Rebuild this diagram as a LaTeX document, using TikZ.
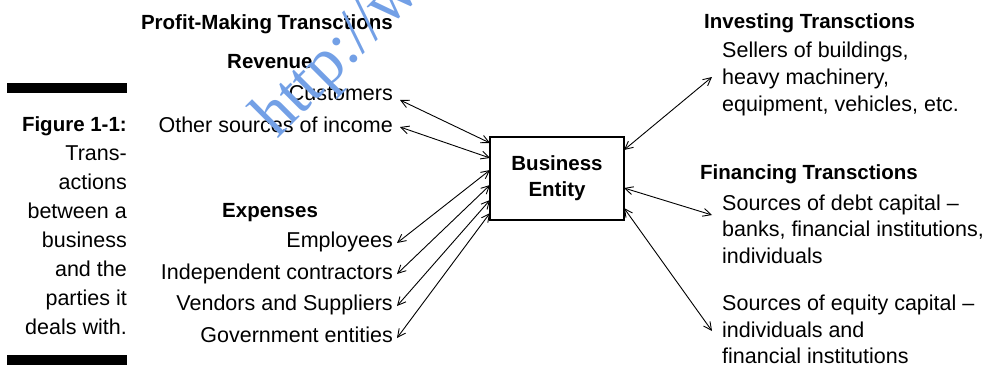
\documentclass[tikz,border=0pt]{standalone}
\usepackage{fontspec}
\setmainfont{Liberation Sans}
\newfontfamily\wmfont{Liberation Serif}
\usetikzlibrary{arrows.meta}
\definecolor{wmblue}{RGB}{115,160,230}

\begin{document}
\begin{tikzpicture}[x=1pt,y=-1pt,
  txt/.style={inner sep=0pt,font=\fontsize{21.5}{27}\selectfont},
  head/.style={inner sep=0pt,font=\fontsize{20.5}{27}\selectfont\bfseries},
  link/.style={line width=0.9pt,
    {Straight Barb[length=8pt,width=8pt]}-{Straight Barb[length=8pt,width=8pt]}},
  bar/.style={fill=black}]
\useasboundingbox (0,0) rectangle (991,367);

% caption column with its two rules
\fill[bar] (7,83) rectangle (127,93);
\fill[bar] (7,355) rectangle (127,365);
\node[head,anchor=base east] (figlabel) at (127,131) {Figure 1-1:};
\foreach \t/\y [count=\i] in {Trans-/160,actions/189,between a/218,business/247,
    and the/276,parties it/305,deals with./334}
  \node[txt,anchor=base east] (cap\i) at (127,\y) {\t};

% profit-making side
\node[head,anchor=base east] (profit) at (393,29) {Profit-Making Transctions};
\node[head,anchor=base west] (revenue) at (227,68) {Revenue};
\node[txt,anchor=base east] (customers) at (393,100) {Customers};
\node[txt,anchor=base east] (income) at (393,132) {Other sources of income};
\node[head,anchor=base west] (expenses) at (222,217) {Expenses};
\node[txt,anchor=base east] (employees) at (393,247) {Employees};
\node[txt,anchor=base east] (contractors) at (393,279) {Independent contractors};
\node[txt,anchor=base east] (vendors) at (393,310) {Vendors and Suppliers};
\node[txt,anchor=base east] (government) at (393,342) {Government entities};

% the entity
\node[draw,line width=1.3pt,minimum width=134pt,minimum height=83pt,
  align=center,font=\fontsize{20.5}{26}\selectfont\bfseries] (entity)
  at (557,178.5) {Business\\Entity};

% investing and financing side
\node[head,anchor=base west] (investing) at (704,28) {Investing Transctions};
\node[txt,anchor=base west] (inv1) at (722,57) {Sellers of buildings,};
\node[txt,anchor=base west] (inv2) at (722,84) {heavy machinery,};
\node[txt,anchor=base west] (inv3) at (722,111) {equipment, vehicles, etc.};
\node[head,anchor=base west] (financing) at (700,179) {Financing Transctions};
\node[txt,anchor=base west] (debt1) at (722,210) {Sources of debt capital --};
\node[txt,anchor=base west] (debt2) at (722,236) {banks, financial institutions,};
\node[txt,anchor=base west] (debt3) at (722,263) {individuals};
\node[txt,anchor=base west] (eq1) at (722,310) {Sources of equity capital --};
\node[txt,anchor=base west] (eq2) at (722,337) {individuals and};
\node[txt,anchor=base west] (eq3) at (722,363) {financial institutions};

% arrow end points
\coordinate (pCust) at (400,100);   \coordinate (eCust) at (490,143);
\coordinate (pInc)  at (400,127);   \coordinate (eInc)  at (490,158);
\coordinate (pEmp)  at (397,243);   \coordinate (eEmp)  at (490,170);
\coordinate (pCon)  at (397,274);   \coordinate (eCon)  at (490,185);
\coordinate (pVen)  at (397,306);   \coordinate (eVen)  at (490,200);
\coordinate (pGov)  at (397,338);   \coordinate (eGov)  at (490,213);
\coordinate (pInv)  at (712,77);    \coordinate (eInv)  at (624,150);
\coordinate (pDebt) at (712,215);   \coordinate (eDebt) at (624,188);
\coordinate (pEq)   at (712,331);   \coordinate (eEq)   at (624,208);

\draw[link] (pCust) -- (eCust);
\draw[link] (pInc) -- (eInc);
\draw[link] (pEmp) -- (eEmp);
\draw[link] (pCon) -- (eCon);
\draw[link] (pVen) -- (eVen);
\draw[link] (pGov) -- (eGov);
\draw[link] (pInv) -- (eInv);
\draw[link] (pDebt) -- (eDebt);
\draw[link] (pEq) -- (eEq);

% web address stamped across the top left
\node[rotate=45,anchor=base west,inner sep=0pt,text=wmblue,
  font=\wmfont\fontsize{66}{66}\selectfont] (stamp) at (277,140) {http://w};
\end{tikzpicture}
\end{document}
